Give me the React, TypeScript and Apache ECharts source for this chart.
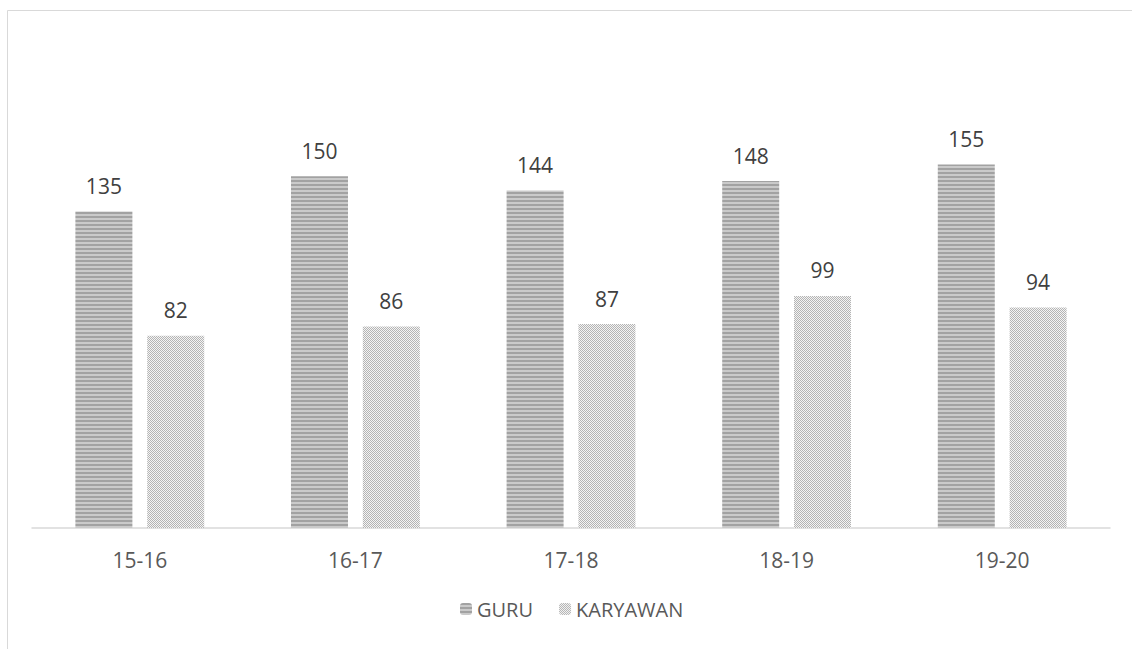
import React, { useEffect, useRef } from "react";
import * as echarts from "echarts";

const categories = ["15-16", "16-17", "17-18", "18-19", "19-20"];
const guru = [135, 150, 144, 148, 155];
const karyawan = [82, 86, 87, 99, 94];

function stripePattern(): HTMLCanvasElement {
  const c = document.createElement("canvas");
  c.width = 4;
  c.height = 4;
  const ctx = c.getContext("2d")!;
  ctx.fillStyle = "#cacaca";
  ctx.fillRect(0, 0, 4, 4);
  ctx.fillStyle = "#a2a2a2";
  ctx.fillRect(0, 0, 4, 2);
  return c;
}

function checkerPattern(): HTMLCanvasElement {
  const c = document.createElement("canvas");
  c.width = 2;
  c.height = 2;
  const ctx = c.getContext("2d")!;
  ctx.fillStyle = "#f4f4f4";
  ctx.fillRect(0, 0, 2, 2);
  ctx.fillStyle = "#b4b4b4";
  ctx.fillRect(0, 0, 1, 1);
  ctx.fillRect(1, 1, 1, 1);
  return c;
}

export default function App() {
  const ref = useRef<HTMLDivElement>(null);
  useEffect(() => {
    document.body.style.margin = "0";
    const chart = echarts.init(ref.current!, null, { renderer: "svg" });
    const p1 = { image: stripePattern(), repeat: "repeat" };
    const p2 = { image: checkerPattern(), repeat: "repeat" };
    const labelStyle = {
      show: true,
      position: "top",
      distance: 15,
      color: "#404040",
      fontSize: 21,
      fontFamily: "Open Sans",
    };
    chart.setOption({
      animation: false,
      backgroundColor: "#ffffff",
      graphic: [
        {
          type: "rect",
          shape: { x: 7.5, y: 10.5, width: 1140, height: 660 },
          style: { fill: "none", stroke: "#d9d9d9", lineWidth: 1 },
          silent: true,
        },
      ],
      grid: { left: 32, right: 22, top: 106, bottom: 121 },
      legend: {
        bottom: 25,
        left: 455,
        itemWidth: 12,
        itemHeight: 12,
        itemGap: 26,
        textStyle: { color: "#595959", fontSize: 20, fontFamily: "Open Sans" },
        data: ["GURU", "KARYAWAN"],
      },
      xAxis: {
        type: "category",
        data: categories,
        axisLine: { lineStyle: { color: "#d9d9d9", width: 1.5 } },
        axisTick: { show: false },
        axisLabel: { color: "#595959", fontSize: 21, margin: 21, fontFamily: "Open Sans" },
      },
      yAxis: {
        type: "value",
        min: 0,
        max: 180,
        show: false,
        splitLine: { show: false },
      },
      series: [
        {
          name: "GURU",
          type: "bar",
          data: guru,
          barWidth: 57,
          barGap: "26%",
          itemStyle: { color: p1 },
          label: labelStyle,
        },
        {
          name: "KARYAWAN",
          type: "bar",
          data: karyawan,
          barWidth: 57,
          itemStyle: { color: p2 },
          label: labelStyle,
        },
      ],
    });
    return () => chart.dispose();
  }, []);
  return <div ref={ref} style={{ width: 1132, height: 649 }} />;
}
